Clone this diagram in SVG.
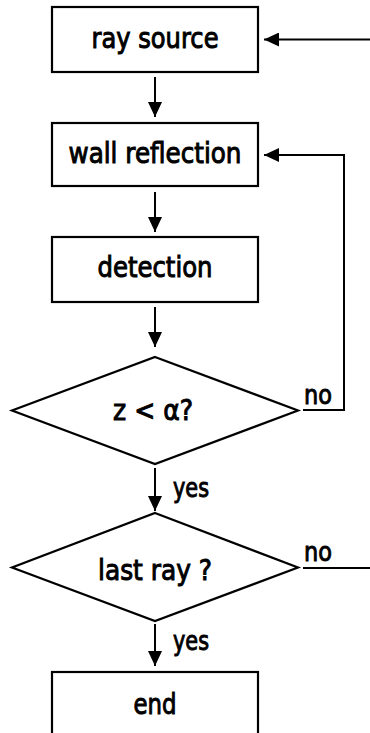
<svg xmlns="http://www.w3.org/2000/svg" width="370" height="733" viewBox="0 0 370 733">
<defs>
<marker id="ah" viewBox="0 0 15 14" refX="15" refY="7" markerWidth="15" markerHeight="14" markerUnits="userSpaceOnUse" orient="auto">
<path d="M0,0 L15,7 L0,14 Z" fill="#000"/>
</marker>
<style>
.box{fill:#fff;stroke:#000;stroke-width:2.2}
.t{font-family:"DejaVu Sans",sans-serif;font-size:28px;fill:#000;stroke:#000;stroke-width:1;text-anchor:middle}
.lb{font-family:"DejaVu Sans",sans-serif;font-size:27px;fill:#000;stroke:#000;stroke-width:1}
.c{fill:none;stroke:#000;stroke-width:2}
</style>
</defs>
<rect width="370" height="733" fill="#fff"/>
<g id="connectors">
<line class="c" x1="370" y1="39.5" x2="264" y2="39.5" marker-end="url(#ah)"/>
<line class="c" x1="155" y1="77" x2="155" y2="117" marker-end="url(#ah)"/>
<polyline class="c" points="303,410 344,410 344,155 264,155" marker-end="url(#ah)"/>
<line class="c" x1="155" y1="192" x2="155" y2="232" marker-end="url(#ah)"/>
<line class="c" x1="155" y1="307" x2="155" y2="347" marker-end="url(#ah)"/>
<line class="c" x1="155" y1="468" x2="155" y2="511" marker-end="url(#ah)"/>
<line class="c" x1="155" y1="624" x2="155" y2="666" marker-end="url(#ah)"/>
<line class="c" x1="303" y1="568" x2="370" y2="568"/>
<text class="lb" x="304" y="404" textLength="28" lengthAdjust="spacingAndGlyphs">no</text>
<text class="lb" x="304" y="561" textLength="28" lengthAdjust="spacingAndGlyphs">no</text>
<text class="lb" x="173" y="497" textLength="36" lengthAdjust="spacingAndGlyphs">yes</text>
<text class="lb" x="173" y="650" textLength="36" lengthAdjust="spacingAndGlyphs">yes</text>
</g>
<g id="ray-source">
<rect class="box" x="52" y="7" width="206" height="65"/>
<text class="t" x="155" y="48" textLength="127" lengthAdjust="spacingAndGlyphs">ray source</text>
</g>
<g id="wall-reflection">
<rect class="box" x="52" y="123" width="206" height="63"/>
<text class="t" x="155" y="163" textLength="173" lengthAdjust="spacingAndGlyphs">wall reflection</text>
</g>
<g id="detection">
<rect class="box" x="52" y="237" width="206" height="65"/>
<text class="t" x="155" y="277" textLength="115" lengthAdjust="spacingAndGlyphs">detection</text>
</g>
<g id="decision-z">
<polygon class="box" points="155,357 298,410.5 155,464 12,410.5"/>
<text class="t" x="153" y="420" textLength="80" lengthAdjust="spacingAndGlyphs">z &lt; α?</text>
</g>
<g id="decision-last">
<polygon class="box" points="155,513 298,567.5 155,621 12,567.5"/>
<text class="t" x="155" y="580" textLength="114" lengthAdjust="spacingAndGlyphs">last ray ?</text>
</g>
<g id="end">
<rect class="box" x="52" y="672" width="206" height="66"/>
<text class="t" x="155" y="714" textLength="43" lengthAdjust="spacingAndGlyphs">end</text>
</g>
</svg>
